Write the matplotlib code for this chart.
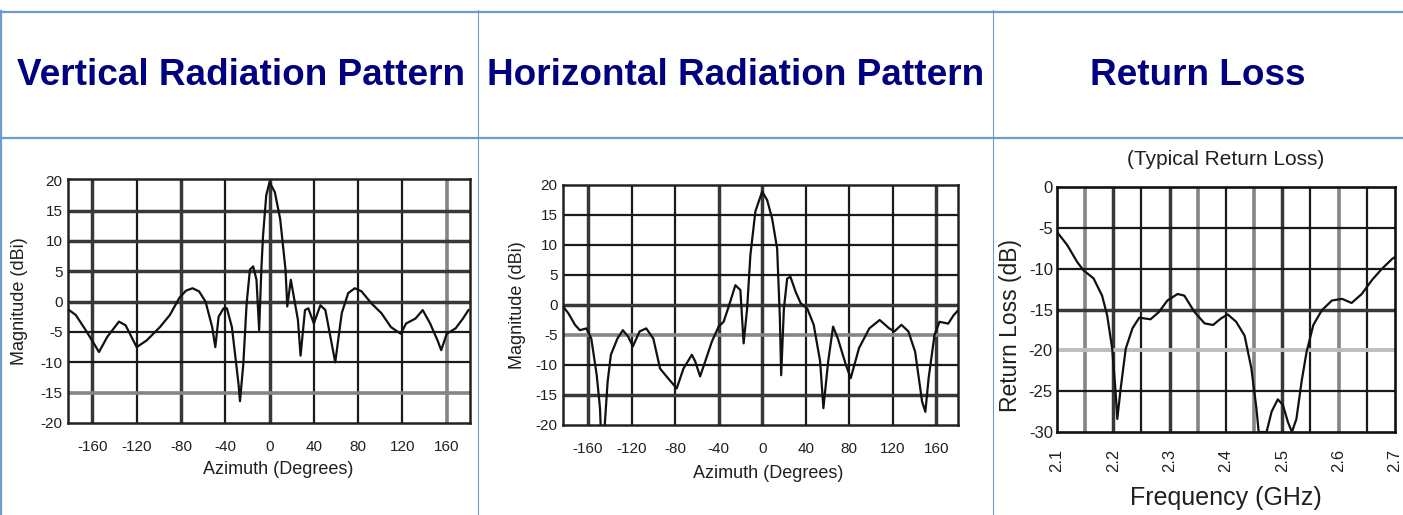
import matplotlib
matplotlib.use('Agg')
import matplotlib.pyplot as plt

plt.rcParams['font.family'] = ['Liberation Sans', 'DejaVu Sans']
plt.rcParams['axes.unicode_minus'] = False

# column headers
headers = ['Vertical Radiation Pattern', 'Horizontal Radiation Pattern', 'Return Loss']

# vertical radiation pattern (azimuth deg, magnitude dBi)
v_az = [-181, -175, -166, -154, -146.5, -136, -130, -120, -111, -99, -90, -81.5,
        -75.5, -69.6, -63.7, -57.8, -51.8, -49, -46, -41.5, -38.5, -34, -28, -26.7,
        -23.7, -20.7, -17.7, -14.8, -11.8, -9.4, -7.4, -5.9, -3, 0, 4.8, 9.6, 14.4,
        16, 19.2, 22.4, 25.6, 28, 32, 35, 40, 45.9, 50.4, 59.3, 65.2, 71, 77, 83, 92,
        101, 109.6, 118.5, 123.3, 131.7, 138.3, 145, 151.7, 155, 160, 168, 174.6, 179.6]
v_db = [-1.4, -2.2, -4.7, -8.3, -5.8, -3.3, -3.9, -7.5, -6.4, -4.2, -2.2, 0.6,
        1.8, 2.2, 1.7, 0, -4.2, -7.5, -2.5, -1.1, -1.1, -4.2, -13.6, -16.4,
        -10.3, -0.3, 5.3, 5.8, 3.6, -4.7, 5.3, 10.8, 17.5, 19.7, 18, 13.6, 5.3,
        -0.8, 3.6, 0.3, -3, -8.9, -1.4, -1.1, -3.6, -0.6, -1.4, -10, -1.9, 1.4, 2.2, 1.7, -0.3,
        -1.9, -4.2, -5.3, -3.6, -2.8, -1.4, -3.6, -6.4, -8, -5.3, -4.4, -2.8, -1.4]

# horizontal radiation pattern
h_az = [-182.7, -178, -172, -167.5, -161.5, -157, -152, -149, -148, -145, -142, -139,
        -133, -128, -123, -118.8, -112.6, -106.5, -100, -93.8, -86.5, -78.5, -72.3,
        -64.6, -61.5, -57, -52.3, -46.2, -40, -35.4, -30.8, -24.6, -20, -17, -13.8,
        -10.8, -6.2, 0, 4.6, 9.2, 13.8, 16.3, 17.5, 20, 23, 26, 30.8, 35.4, 41.5, 47.4,
        53.3, 56.3, 60.7, 65.2, 69.6, 77, 81.4, 89, 98.5, 108, 116.8, 121.6, 128, 134.4,
        140.6, 147, 150, 153, 158.4, 163, 171, 176, 180.5]
h_db = [-0.3, -1.4, -3.3, -4.2, -3.9, -5.6, -11.7, -17.2, -22, -21, -12.8, -8.3,
        -5.6, -4.2, -5.3, -6.9, -4.4, -3.9, -5.6, -10.6, -12.2, -13.9, -10.6,
        -8.3, -9.4, -11.9, -9.4, -6.1, -3.6, -2.8, -0.3, 3.3, 2.5, -6.4, -0.6,
        8.3, 15.6, 18.9, 17.5, 14.4, 9.4, -2.2, -11.7, -0.6, 4.4, 4.7, 2.2, 0.3, -0.6, -3.3,
        -9.4, -17.2, -9.4, -3.6, -5.6, -10, -12.2, -7.2, -3.9, -2.5, -3.9, -4.4, -3.3, -4.4,
        -7.8, -16.1, -17.8, -12.2, -5, -2.8, -3.1, -1.7, -0.8]

# return loss (GHz, dB)
rl_f = [2.1, 2.118, 2.136, 2.147, 2.165, 2.180, 2.189, 2.198, 2.204, 2.207, 2.213,
        2.222, 2.234, 2.246, 2.266, 2.281, 2.296, 2.314, 2.326, 2.344, 2.362, 2.377,
        2.391, 2.403, 2.418, 2.433, 2.445, 2.454, 2.458, 2.472, 2.481, 2.492, 2.501,
        2.510, 2.517, 2.525, 2.534, 2.543, 2.555, 2.570, 2.588, 2.606, 2.623, 2.641,
        2.659, 2.677, 2.695, 2.704]
rl_db = [-5.5, -7.1, -9.2, -10.2, -11.2, -13.3, -15.7, -19.8, -25.1, -28.4, -24.7,
         -19.8, -17.3, -16.0, -16.2, -15.3, -13.9, -13.1, -13.3, -15.3, -16.7, -16.9,
         -16.1, -15.6, -16.5, -18.2, -22.2, -27.1, -30, -30, -27.5, -26, -26.7,
         -28.8, -30, -28.4, -23.9, -20.2, -16.9, -15.1, -13.9, -13.7, -14.2, -13.1,
         -11.4, -10, -8.8, -8.4]

az_ticks = [-160, -120, -80, -40, 0, 40, 80, 120, 160]
mag_ticks = [-20, -15, -10, -5, 0, 5, 10, 15, 20]
f_ticks = [2.1, 2.2, 2.3, 2.4, 2.5, 2.6, 2.7]
f_grid = [2.15, 2.2, 2.25, 2.3, 2.35, 2.4, 2.45, 2.5, 2.55, 2.6, 2.65]
rl_ticks = [0, -5, -10, -15, -20, -25, -30]

W, H = 1403, 515
fig = plt.figure(figsize=(W / 100, H / 100), dpi=100)

# background axes in pixel coords for the table
bg = fig.add_axes([0, 0, 1, 1])
bg.set_xlim(0, W)
bg.set_ylim(H, 0)
bg.axis('off')

tbl = '#6b9bcf'
bg.plot([0, W], [12, 12], color=tbl, lw=1.6)
bg.plot([0, W], [138, 138], color=tbl, lw=1.6)
bg.plot([1, 1], [11, H], color=tbl, lw=1.6)
for x in [478, 993]:
    bg.plot([x, x], [10, H], color=tbl, lw=0.8)

for cx, txt in zip([241, 735.5, 1198], headers):
    bg.text(cx, 85, txt, ha='center', va='baseline', fontsize=26.6,
            fontweight='bold', color='#000080')


def px_axes(l, t, r, b):
    return fig.add_axes([l / W, 1 - b / H, (r - l) / W, (b - t) / H])


def draw_grid(ax, xs, ys, xstyle, ystyle):
    for x, (c, w) in zip(xs, xstyle):
        ax.axvline(x, color=c, lw=w, zorder=1)
    for y, (c, w) in zip(ys, ystyle):
        ax.axhline(y, color=c, lw=w, zorder=1)


K = ('#1a1a1a', 1.6)
D = ('#383838', 2.5)
G = ('#858585', 2.6)
L = ('#bdbdbd', 2.8)

txtc = '#202020'


def pattern_axes(ax, az, db, xlim, ylim, xstyle, ystyle):
    ax.set_xlim(*xlim)
    ax.set_ylim(*ylim)
    draw_grid(ax, az_ticks, mag_ticks[1:-1], xstyle, ystyle)
    ax.plot(az, db, color='#111111', lw=1.6, zorder=3)
    ax.set_xticks(az_ticks)
    ax.set_yticks(mag_ticks)
    ax.tick_params(length=0, labelsize=11, labelcolor=txtc)
    ax.tick_params(axis='x', pad=12)
    ax.tick_params(axis='y', pad=4)
    for s in ax.spines.values():
        s.set_linewidth(1.8)
        s.set_color('#222222')


ax1 = px_axes(68, 179, 470, 423)
pattern_axes(ax1, v_az, v_db, (-182, 181), (-20, 20.2),
             [D, K, D, K, D, K, K, K, G], [G, K, K, D, D, D, D])
ax1.set_xlabel('Azimuth (Degrees)', fontsize=13, color=txtc, va='center')
ax1.set_ylabel('Magnitude (dBi)', fontsize=13, color=txtc, va='center')
ax1.xaxis.set_label_coords(278, 470, transform=bg.transData)
ax1.yaxis.set_label_coords(20, 301, transform=bg.transData)

ax2 = px_axes(563, 185, 958, 425)
pattern_axes(ax2, h_az, h_db, (-183, 180), (-20, 20),
             [D, K, K, D, D, K, K, K, D], [D, K, G, D, K, K, K])
ax2.set_xlabel('Azimuth (Degrees)', fontsize=13, color=txtc, va='center')
ax2.set_ylabel('Magnitude (dBi)', fontsize=13, color=txtc, va='center')
ax2.xaxis.set_label_coords(768, 473, transform=bg.transData)
ax2.yaxis.set_label_coords(518, 305, transform=bg.transData)

ax3 = px_axes(1057, 187, 1395, 432)
ax3.set_xlim(2.1, 2.7)
ax3.set_ylim(-30, 0)
draw_grid(ax3, f_grid, rl_ticks[1:-1],
          [G, D, K, D, G, K, G, D, K, G, K], [K, K, D, L, K])
ax3.plot(rl_f, rl_db, color='#111111', lw=1.6, zorder=3)
ax3.set_xticks(f_ticks)
ax3.set_xticklabels([str(f) for f in f_ticks], rotation=90)
ax3.set_yticks(rl_ticks)
ax3.tick_params(length=0, labelsize=12, labelcolor=txtc)
ax3.tick_params(axis='x', pad=12)
ax3.tick_params(axis='y', pad=3)
for s in ax3.spines.values():
    s.set_linewidth(1.9)
    s.set_color('#111111')
ax3.set_title('(Typical Return Loss)', fontsize=15, color=txtc, pad=16)
ax3.set_xlabel('Frequency (GHz)', fontsize=18, color=txtc, va='center')
ax3.set_ylabel('Return Loss (dB)', fontsize=16.5, color=txtc, va='center')
ax3.xaxis.set_label_coords(1226, 498, transform=bg.transData)
ax3.yaxis.set_label_coords(1010, 325, transform=bg.transData)

fig.savefig('out.png', dpi=100)
